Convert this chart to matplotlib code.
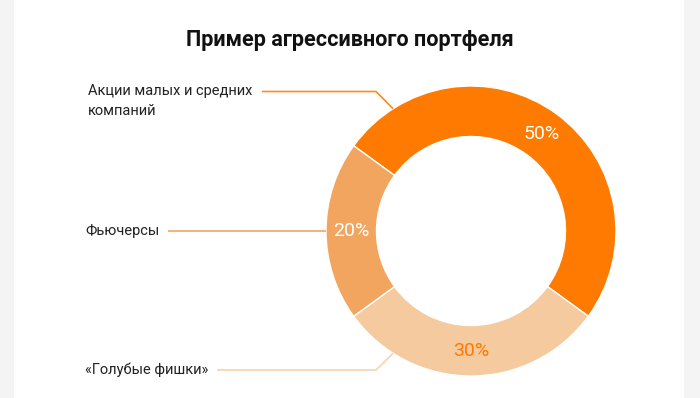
import numpy as np
import matplotlib
matplotlib.use('Agg')
import matplotlib.pyplot as plt
from matplotlib.patches import Rectangle

# Data
labels = ["Акции малых и средних\nкомпаний", "«Голубые фишки»", "Фьючерсы"]
values = [50, 30, 20]
colors = ["#FF7A00", "#F5CA9F", "#F2A55F"]
pct_colors = ["white", "#FF7A00", "white"]
title = "Пример агрессивного портфеля"

W, H = 700, 398
plt.rcParams['font.family'] = ['Roboto', 'DejaVu Sans']

fig = plt.figure(figsize=(W / 100, H / 100), dpi=100)
fig.patch.set_facecolor("#F4F4F4")
ax = fig.add_axes([0, 0, 1, 1])

# white card
ax.add_patch(Rectangle((14, 0), 670, H, facecolor="white", edgecolor="none", zorder=0))

# donut
cx, cy = 471, H - 231
r_out, ring = 145, 50.5
wedges, _ = ax.pie(values, colors=colors, startangle=144, counterclock=False,
                   radius=r_out, center=(cx, cy), frame=True,
                   wedgeprops=dict(width=ring, edgecolor="white", linewidth=1.0))
ax.set_xlim(0, W)
ax.set_ylim(0, H)
ax.set_aspect('equal')
ax.axis('off')

# percent labels in the middle of the ring
r_mid = r_out - ring / 2
for w, v, c in zip(wedges, values, pct_colors):
    ang = np.deg2rad((w.theta1 + w.theta2) / 2)
    ax.text(cx + r_mid * np.cos(ang), cy + r_mid * np.sin(ang), f"{v}%",
            ha='center', va='center', fontsize=14, color=c, fontweight='normal')

# category labels with leader lines (layout: text x, line start, elbow x, attach angle)
label_layout = [
    (88, 262, 376, 122.5),
    (85, 217, 376, 237.5),
    (85, 168, None, 180.0),
]
line_colors = ["#FF8A1F", "#F7D3AE", "#F2A55F"]
for lab, (tx, lx, ex, a), lc in zip(labels, label_layout, line_colors):
    ang = np.deg2rad(a)
    px, py = cx + r_out * np.cos(ang), cy + r_out * np.sin(ang)
    if ex is None:
        xs, ys = [lx, px], [py, py]
        ly = py
    else:
        ly = H - 91.5 if a < 180 else H - 370
        xs, ys = [lx, ex, px], [ly, ly, py]
    ax.plot(xs, ys, color=lc, lw=1.2, solid_capstyle='butt', zorder=3)
    n = lab.count('\n')
    ax.text(tx, ly - 9.2 * n, lab, ha='left', va='center',
            fontsize=10.5, color="#222222", linespacing=1.55)

ax.text(W / 2, H - 40, title, ha='center', va='center', fontsize=15.6,
        fontweight='bold', color="#111111")

fig.savefig("out.png", dpi=100, facecolor=fig.get_facecolor())
